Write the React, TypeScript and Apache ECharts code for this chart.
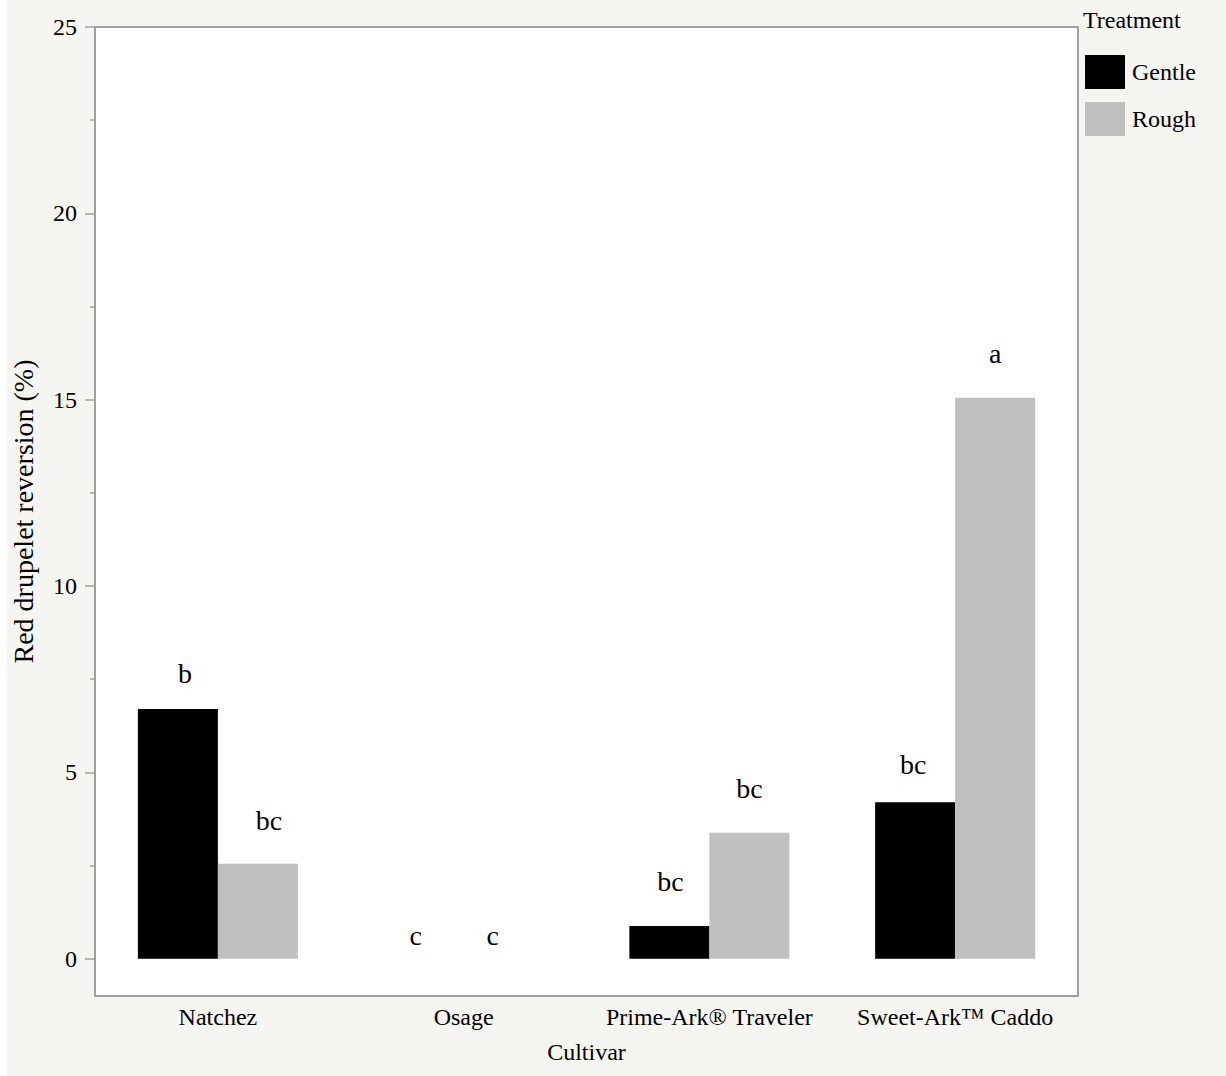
import React, { useEffect, useRef } from "react";
import * as echarts from "echarts";

// Cultivars on the x axis
const cultivars = ["Natchez", "Osage", "Prime-Ark® Traveler", "Sweet-Ark™ Caddo"];

// Red drupelet reversion (%) per treatment
const gentle = [6.7, 0, 0.88, 4.2];
const rough = [2.55, 0, 3.38, 15.05];

// Mean-separation letters shown above each bar
const gentleLetters = ["b", "c", "bc", "bc"];
const roughLetters = ["bc", "c", "bc", "a"];

// Y axis ticks
const majorTicks = [0, 5, 10, 15, 20, 25];
const minorTicks = [2.5, 7.5, 12.5, 17.5, 22.5];

// Placement (px) of each letter relative to its bar: lift above the top, sideways shift
const gentleLift = [22, 9, 30, 24];
const roughLift = [29, 9, 30, 30];
const gentleShift = [7, -8, 1, -2];
const roughShift = [11, -11, 0, 0];

const FONT = "'Liberation Serif', 'Times New Roman', serif";
const AXIS_GREY = "#a0a0a0";

export default function App() {
  const ref = useRef<HTMLDivElement>(null);

  useEffect(() => {
    document.body.style.margin = "0";
    const chart = echarts.init(ref.current!, null, { renderer: "svg" });

    const makeData = (vals: number[], letters: string[], lift: number[], shift: number[]) =>
      vals.map((v, i) => ({
        value: v,
        label: { formatter: letters[i], distance: lift[i], offset: [shift[i], 0] },
      }));

    const labelStyle = {
      show: true,
      position: "top" as const,
      fontFamily: FONT,
      fontSize: 28,
      color: "#000",
    };

    chart.setOption({
      animation: false,
      backgroundColor: "#f5f5f1",
      textStyle: { fontFamily: FONT },
      title: {
        text: "Treatment",
        left: 1076,
        top: 8,
        padding: 0,
        textStyle: { fontFamily: FONT, fontSize: 24, fontWeight: "normal", color: "#000" },
      },
      legend: {
        data: ["Gentle", "Rough"],
        orient: "vertical",
        left: 1078,
        top: 55,
        padding: 0,
        itemWidth: 40,
        itemHeight: 34,
        itemGap: 13,
        icon: "rect",
        selectedMode: false,
        textStyle: { fontFamily: FONT, fontSize: 24, color: "#000", padding: [0, 0, 0, 2] },
      },
      grid: {
        left: 88,
        right: 148,
        top: 27,
        bottom: 80,
        outerBoundsMode: "none",
        containLabel: false,
        show: true,
        backgroundColor: "#ffffff",
        borderColor: AXIS_GREY,
        borderWidth: 2,
      },
      xAxis: {
        type: "category",
        data: cultivars,
        name: "Cultivar",
        nameLocation: "middle",
        nameGap: 44,
        nameTextStyle: { fontFamily: FONT, fontSize: 24, color: "#000" },
        axisLine: { onZero: false, lineStyle: { color: AXIS_GREY, width: 2 } },
        axisTick: { show: false },
        axisLabel: { interval: 0, fontFamily: FONT, fontSize: 24, color: "#000", margin: 9 },
      },
      yAxis: [
        {
          type: "value",
          min: -1,
          max: 25,
          name: "Red drupelet reversion (%)",
          nameLocation: "middle",
          nameGap: 58,
          nameTextStyle: { fontFamily: FONT, fontSize: 28, color: "#000" },
          axisLine: { show: true, onZero: false, lineStyle: { color: AXIS_GREY, width: 2 } },
          axisTick: {
            show: true,
            length: 10,
            customValues: majorTicks,
            lineStyle: { color: AXIS_GREY, width: 1.5 },
          },
          axisLabel: {
            fontFamily: FONT,
            fontSize: 24,
            color: "#000",
            margin: 18,
            customValues: majorTicks,
          },
          splitLine: { show: false },
        },
        {
          type: "value",
          min: -1,
          max: 25,
          position: "left",
          axisLine: { show: false, onZero: false },
          axisTick: {
            show: true,
            length: 5,
            customValues: minorTicks,
            lineStyle: { color: AXIS_GREY, width: 1.5 },
          },
          axisLabel: { show: false },
          splitLine: { show: false },
        },
      ],
      series: [
        {
          name: "Gentle",
          type: "bar",
          barWidth: 80,
          barGap: "0%",
          itemStyle: { color: "#000000" },
          label: labelStyle,
          data: makeData(gentle, gentleLetters, gentleLift, gentleShift),
        },
        {
          name: "Rough",
          type: "bar",
          barWidth: 80,
          barGap: "0%",
          itemStyle: { color: "#c0c0c0" },
          label: labelStyle,
          data: makeData(rough, roughLetters, roughLift, roughShift),
        },
      ],
    });

    return () => chart.dispose();
  }, []);

  return (
    <div style={{ width: 1226, height: 1076, background: "#ffffff" }}>
      <div ref={ref} style={{ marginLeft: 7, width: 1219, height: 1076 }} />
    </div>
  );
}
